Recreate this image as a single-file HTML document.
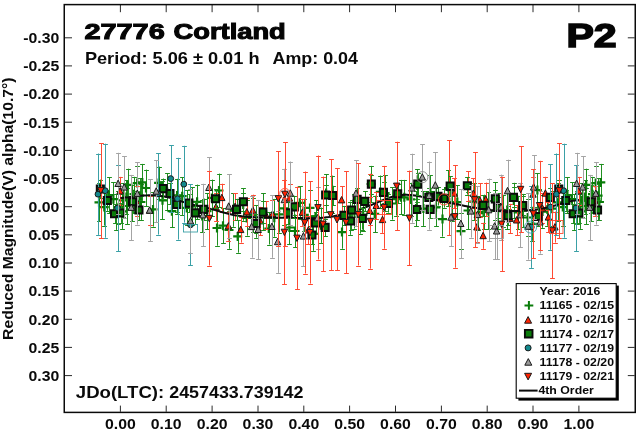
<!DOCTYPE html>
<html lang="en">
<head>
<meta charset="utf-8">
<title>27776 Cortland - Lightcurve P2</title>
<style>
html,body{margin:0;padding:0;background:#fff;}
body{width:640px;height:433px;position:relative;overflow:hidden;font-family:"Liberation Sans",Arial,sans-serif;}
svg text{white-space:pre;}
svg{filter:blur(0.35px);}
</style>
</head>
<body>
<svg width="640" height="433" viewBox="0 0 640 433" style="display:block;position:absolute;left:0;top:0">
<rect x="0" y="0" width="640" height="433" fill="#fff"/>
<path d="M120.4 5V12.2M120.4 411.8V405.6M166.2 5V12.2M166.2 411.8V405.6M212.1 5V12.2M212.1 411.8V405.6M258.0 5V12.2M258.0 411.8V405.6M303.8 5V12.2M303.8 411.8V405.6M349.6 5V12.2M349.6 411.8V405.6M395.5 5V12.2M395.5 411.8V405.6M441.4 5V12.2M441.4 411.8V405.6M487.2 5V12.2M487.2 411.8V405.6M533.0 5V12.2M533.0 411.8V405.6M578.9 5V12.2M578.9 411.8V405.6M65 37.8H72M634.6 37.8H627.8M65 65.9H72M634.6 65.9H627.8M65 94.1H72M634.6 94.1H627.8M65 122.2H72M634.6 122.2H627.8M65 150.4H72M634.6 150.4H627.8M65 178.5H72M634.6 178.5H627.8M65 206.7H72M634.6 206.7H627.8M65 234.8H72M634.6 234.8H627.8M65 263.0H72M634.6 263.0H627.8M65 291.1H72M634.6 291.1H627.8M65 319.3H72M634.6 319.3H627.8M65 347.4H72M634.6 347.4H627.8M65 375.6H72M634.6 375.6H627.8" stroke="#2a2a2a" stroke-width="1" fill="none"/>
<g id="data">
<path d="M223.5 208.3V243.1M221.1 208.5h4.8M221.1 243.5h4.8M217.5 210.3V245.7M215.1 210.5h4.8M215.1 246.5h4.8M229.5 211.2V248.8M227.1 211.5h4.8M227.1 249.5h4.8M404.5 179.9V214.7M402.1 180.5h4.8M402.1 215.5h4.8M442.5 201.6V236.6M440.1 202.5h4.8M440.1 237.5h4.8M461.5 213.3V248.9M459.1 213.5h4.8M459.1 249.5h4.8M342.5 215.5V248.7M340.1 216.5h4.8M340.1 249.5h4.8M598.5 178.2V213.2M596.1 178.5h4.8M596.1 213.5h4.8M599.5 184.1V219.9M597.1 184.5h4.8M597.1 220.5h4.8M146.5 169.6V206.4M144.1 170.5h4.8M144.1 206.5h4.8M159.5 166.6V199.2M157.1 167.5h4.8M157.1 199.5h4.8M219.5 173.6V207.4M217.1 174.5h4.8M217.1 207.5h4.8M243.5 188.2V220.8M241.1 188.5h4.8M241.1 221.5h4.8M263.5 193.2V230.0M261.1 193.5h4.8M261.1 230.5h4.8M371.5 165.9V202.1M369.1 166.5h4.8M369.1 202.5h4.8M417.5 169.5V201.7M415.1 169.5h4.8M415.1 202.5h4.8M326.5 174.1V211.9M324.1 174.5h4.8M324.1 212.5h4.8M332.5 175.6V213.4M330.1 176.5h4.8M330.1 213.5h4.8M448.5 170.0V206.0M446.1 170.5h4.8M446.1 206.5h4.8M313.5 215.2V250.8M311.1 215.5h4.8M311.1 251.5h4.8M295.5 214.5V247.5M293.1 215.5h4.8M293.1 247.5h4.8M269.5 212.5V244.5M267.1 212.5h4.8M267.1 245.5h4.8M247.5 200.4V235.6M245.1 200.5h4.8M245.1 236.5h4.8M256.5 205.3V237.7M254.1 205.5h4.8M254.1 238.5h4.8M350.5 201.6V234.8M348.1 202.5h4.8M348.1 235.5h4.8M363.5 197.9V231.3M361.1 198.5h4.8M361.1 231.5h4.8M392.5 187.4V219.6M390.1 187.5h4.8M390.1 220.5h4.8M416.5 191.2V226.0M414.1 191.5h4.8M414.1 226.5h4.8M423.5 191.3V225.9M421.1 191.5h4.8M421.1 226.5h4.8M495.5 182.5V219.5M493.1 182.5h4.8M493.1 220.5h4.8M514.5 182.8V218.0M512.1 183.5h4.8M512.1 218.5h4.8M574.5 194.1V229.9M572.1 194.5h4.8M572.1 230.5h4.8M580.5 193.9V228.9M578.1 194.5h4.8M578.1 229.5h4.8M586.5 188.0V224.0M584.1 188.5h4.8M584.1 224.5h4.8M592.5 176.8V211.6M590.1 177.5h4.8M590.1 212.5h4.8M585.5 180.2V213.8M583.1 180.5h4.8M583.1 214.5h4.8M468.5 191.5V229.5M466.1 192.5h4.8M466.1 229.5h4.8M99.5 183.3V221.3M97.1 183.5h4.8M97.1 221.5h4.8M104.5 188.6V225.6M102.1 189.5h4.8M102.1 226.5h4.8M109.5 177.1V213.3M107.1 177.5h4.8M107.1 213.5h4.8M113.5 182.3V216.1M111.1 182.5h4.8M111.1 216.5h4.8M118.5 190.5V223.9M116.1 191.5h4.8M116.1 224.5h4.8M123.5 183.4V217.2M121.1 183.5h4.8M121.1 217.5h4.8M128.5 168.7V201.1M126.1 169.5h4.8M126.1 201.5h4.8M132.5 184.7V221.3M130.1 185.5h4.8M130.1 221.5h4.8M137.5 165.9V200.3M135.1 166.5h4.8M135.1 200.5h4.8M142.5 163.9V200.9M140.1 164.5h4.8M140.1 201.5h4.8M153.5 192.2V226.6M151.1 192.5h4.8M151.1 227.5h4.8M162.5 181.4V219.2M160.1 181.5h4.8M160.1 219.5h4.8M167.5 173.4V210.4M165.1 173.5h4.8M165.1 210.5h4.8M172.5 195.2V227.2M170.1 195.5h4.8M170.1 227.5h4.8M177.5 178.8V212.0M175.1 179.5h4.8M175.1 212.5h4.8M182.5 177.5V214.9M180.1 177.5h4.8M180.1 215.5h4.8M187.5 190.5V225.3M185.1 190.5h4.8M185.1 225.5h4.8M192.5 187.5V225.3M190.1 187.5h4.8M190.1 225.5h4.8M197.5 184.6V219.0M195.1 185.5h4.8M195.1 219.5h4.8M202.5 199.8V232.2M200.1 200.5h4.8M200.1 232.5h4.8M207.5 193.2V229.0M205.1 193.5h4.8M205.1 229.5h4.8M212.5 179.6V216.2M210.1 180.5h4.8M210.1 216.5h4.8M233.5 193.2V226.8M231.1 193.5h4.8M231.1 227.5h4.8M238.5 220.1V252.7M236.1 220.5h4.8M236.1 253.5h4.8M253.5 198.1V232.1M251.1 198.5h4.8M251.1 232.5h4.8M274.5 198.9V236.7M272.1 199.5h4.8M272.1 237.5h4.8M279.5 196.0V232.6M277.1 196.5h4.8M277.1 233.5h4.8M284.5 191.9V224.7M282.1 192.5h4.8M282.1 225.5h4.8M289.5 210.8V244.2M287.1 211.5h4.8M287.1 244.5h4.8M300.5 186.5V219.1M298.1 186.5h4.8M298.1 219.5h4.8M304.5 198.7V231.1M302.1 199.5h4.8M302.1 231.5h4.8M310.5 189.5V226.3M308.1 190.5h4.8M308.1 226.5h4.8M316.5 200.3V233.3M314.1 200.5h4.8M314.1 233.5h4.8M321.5 207.5V242.9M319.1 208.5h4.8M319.1 243.5h4.8M354.5 194.0V228.6M352.1 194.5h4.8M352.1 229.5h4.8M360.5 200.4V233.6M358.1 200.5h4.8M358.1 234.5h4.8M375.5 195.7V232.1M373.1 196.5h4.8M373.1 232.5h4.8M380.5 175.5V208.3M378.1 176.5h4.8M378.1 208.5h4.8M385.5 175.1V210.9M383.1 175.5h4.8M383.1 211.5h4.8M396.5 182.9V215.5M394.1 183.5h4.8M394.1 216.5h4.8M401.5 179.9V214.5M399.1 180.5h4.8M399.1 214.5h4.8M411.5 182.8V216.0M409.1 183.5h4.8M409.1 216.5h4.8M430.5 175.4V209.0M428.1 175.5h4.8M428.1 209.5h4.8M436.5 188.4V226.2M434.1 188.5h4.8M434.1 226.5h4.8M452.5 183.7V220.5M450.1 184.5h4.8M450.1 221.5h4.8M457.5 185.2V219.0M455.1 185.5h4.8M455.1 219.5h4.8M474.5 183.0V220.4M472.1 183.5h4.8M472.1 220.5h4.8M478.5 196.5V229.7M476.1 196.5h4.8M476.1 230.5h4.8M484.5 194.7V229.1M482.1 195.5h4.8M482.1 229.5h4.8M488.5 192.3V229.5M486.1 192.5h4.8M486.1 229.5h4.8M498.5 193.0V228.8M496.1 193.5h4.8M496.1 229.5h4.8M503.5 194.8V227.4M501.1 195.5h4.8M501.1 227.5h4.8M507.5 191.0V229.0M505.1 191.5h4.8M505.1 229.5h4.8M518.5 195.7V228.9M516.1 196.5h4.8M516.1 229.5h4.8M523.5 193.9V227.5M521.1 194.5h4.8M521.1 227.5h4.8M528.5 199.2V235.8M526.1 199.5h4.8M526.1 236.5h4.8M532.5 206.8V240.8M530.1 207.5h4.8M530.1 241.5h4.8M537.5 173.2V207.0M535.1 173.5h4.8M535.1 207.5h4.8M542.5 195.4V227.8M540.1 195.5h4.8M540.1 228.5h4.8M547.5 193.1V225.7M545.1 193.5h4.8M545.1 226.5h4.8M552.5 191.0V226.4M550.1 191.5h4.8M550.1 226.5h4.8M140.5 178.2V213.2M138.1 178.5h4.8M138.1 213.5h4.8M141.5 184.1V219.9M139.1 184.5h4.8M139.1 220.5h4.8M116.5 194.1V229.9M114.1 194.5h4.8M114.1 230.5h4.8M122.5 193.9V228.9M120.1 194.5h4.8M120.1 229.5h4.8M127.5 188.0V224.0M125.1 188.5h4.8M125.1 224.5h4.8M134.5 176.8V211.6M132.1 177.5h4.8M132.1 212.5h4.8M126.5 180.2V213.8M124.1 180.5h4.8M124.1 214.5h4.8M558.5 183.3V221.3M556.1 183.5h4.8M556.1 221.5h4.8M563.5 188.6V225.6M561.1 189.5h4.8M561.1 226.5h4.8M567.5 177.1V213.3M565.1 177.5h4.8M565.1 213.5h4.8M572.5 182.3V216.1M570.1 182.5h4.8M570.1 216.5h4.8M577.5 190.5V223.9M575.1 191.5h4.8M575.1 224.5h4.8M582.5 183.4V217.2M580.1 183.5h4.8M580.1 217.5h4.8M586.5 168.7V201.1M584.1 169.5h4.8M584.1 201.5h4.8M591.5 184.7V221.3M589.1 185.5h4.8M589.1 221.5h4.8M596.5 165.9V200.3M594.1 166.5h4.8M594.1 200.5h4.8M601.5 163.9V200.9M599.1 164.5h4.8M599.1 201.5h4.8" stroke="#1f8f1f" stroke-width="1.00" fill="none" opacity="1.00"/>
<path d="M218.5 225.7h9.0M223.0 221.2v9.0M212.5 228.0h9.0M217.0 223.5v9.0M224.5 230.0h9.0M229.0 225.5v9.0M399.8 197.3h9.0M404.3 192.8v9.0M438.0 219.1h9.0M442.5 214.6v9.0M456.5 231.1h9.0M461.0 226.6v9.0M337.5 232.1h9.0M342.0 227.6v9.0M593.6 195.7h9.0M598.1 191.2v9.0M594.9 202.0h9.0M599.4 197.5v9.0M141.5 188.0h9.0M146.0 183.5v9.0M154.1 182.9h9.0M158.6 178.4v9.0M214.5 190.5h9.0M219.0 186.0v9.0M238.7 204.5h9.0M243.2 200.0v9.0M258.3 211.6h9.0M262.8 207.1v9.0M366.6 184.0h9.0M371.1 179.5v9.0M412.9 185.6h9.0M417.4 181.1v9.0M321.6 193.0h9.0M326.1 188.5v9.0M328.0 194.5h9.0M332.5 190.0v9.0M444.0 188.0h9.0M448.5 183.5v9.0M308.3 233.0h9.0M312.8 228.5v9.0M290.5 231.0h9.0M295.0 226.5v9.0M264.3 228.5h9.0M268.8 224.0v9.0M242.2 218.0h9.0M246.7 213.5v9.0M251.7 221.5h9.0M256.2 217.0v9.0M345.5 218.2h9.0M350.0 213.7v9.0M358.6 214.6h9.0M363.1 210.1v9.0M387.3 203.5h9.0M391.8 199.0v9.0M411.5 208.6h9.0M416.0 204.1v9.0M418.9 208.6h9.0M423.4 204.1v9.0M490.2 201.0h9.0M494.7 196.5v9.0M509.3 200.4h9.0M513.8 195.9v9.0M570.0 212.0h9.0M574.5 207.5v9.0M576.0 211.4h9.0M580.5 206.9v9.0M581.1 206.0h9.0M585.6 201.5v9.0M588.0 194.2h9.0M592.5 189.7v9.0M580.4 197.0h9.0M584.9 192.5v9.0M463.5 210.5h9.0M468.0 206.0v9.0M94.5 202.3h9.0M99.0 197.8v9.0M99.8 207.1h9.0M104.3 202.6v9.0M104.4 195.2h9.0M108.9 190.7v9.0M108.9 199.2h9.0M113.4 194.7v9.0M114.0 207.2h9.0M118.5 202.7v9.0M118.6 200.3h9.0M123.1 195.8v9.0M123.2 184.9h9.0M127.7 180.4v9.0M127.9 203.0h9.0M132.4 198.5v9.0M132.7 183.1h9.0M137.2 178.6v9.0M137.8 182.4h9.0M142.3 177.9v9.0M148.5 209.4h9.0M153.0 204.9v9.0M158.0 200.3h9.0M162.5 195.8v9.0M162.7 191.9h9.0M167.2 187.4v9.0M167.4 211.2h9.0M171.9 206.7v9.0M172.6 195.4h9.0M177.1 190.9v9.0M177.7 196.2h9.0M182.2 191.7v9.0M182.3 207.9h9.0M186.8 203.4v9.0M187.6 206.4h9.0M192.1 201.9v9.0M192.6 201.8h9.0M197.1 197.3v9.0M197.7 216.0h9.0M202.2 211.5v9.0M202.5 211.1h9.0M207.0 206.6v9.0M207.3 197.9h9.0M211.8 193.4v9.0M228.6 210.0h9.0M233.1 205.5v9.0M233.2 236.4h9.0M237.7 231.9v9.0M248.3 215.1h9.0M252.8 210.6v9.0M269.8 217.8h9.0M274.3 213.3v9.0M274.6 214.3h9.0M279.1 209.8v9.0M279.8 208.3h9.0M284.3 203.8v9.0M284.9 227.5h9.0M289.4 223.0v9.0M295.3 202.8h9.0M299.8 198.3v9.0M299.8 214.9h9.0M304.3 210.4v9.0M305.5 207.9h9.0M310.0 203.4v9.0M311.0 216.8h9.0M315.5 212.3v9.0M316.3 225.2h9.0M320.8 220.7v9.0M349.9 211.3h9.0M354.4 206.8v9.0M355.4 217.0h9.0M359.9 212.5v9.0M370.2 213.9h9.0M374.7 209.4v9.0M375.8 191.9h9.0M380.3 187.4v9.0M380.6 193.0h9.0M385.1 188.5v9.0M391.8 199.2h9.0M396.3 194.7v9.0M396.5 197.2h9.0M401.0 192.7v9.0M406.3 199.4h9.0M410.8 194.9v9.0M425.9 192.2h9.0M430.4 187.7v9.0M431.5 207.3h9.0M436.0 202.8v9.0M447.2 202.1h9.0M451.7 197.6v9.0M452.8 202.1h9.0M457.3 197.6v9.0M469.2 201.7h9.0M473.7 197.2v9.0M473.9 213.1h9.0M478.4 208.6v9.0M479.1 211.9h9.0M483.6 207.4v9.0M483.9 210.9h9.0M488.4 206.4v9.0M493.5 210.9h9.0M498.0 206.4v9.0M498.1 211.1h9.0M502.6 206.6v9.0M502.8 210.0h9.0M507.3 205.5v9.0M513.6 212.3h9.0M518.1 207.8v9.0M518.2 210.7h9.0M522.7 206.2v9.0M523.2 217.5h9.0M527.7 213.0v9.0M527.8 223.8h9.0M532.3 219.3v9.0M532.9 190.1h9.0M537.4 185.6v9.0M538.0 211.6h9.0M542.5 207.1v9.0M542.9 209.4h9.0M547.4 204.9v9.0M547.7 208.7h9.0M552.2 204.2v9.0M135.1 195.7h9.0M139.6 191.2v9.0M136.4 202.0h9.0M140.9 197.5v9.0M111.5 212.0h9.0M116.0 207.5v9.0M117.5 211.4h9.0M122.0 206.9v9.0M122.6 206.0h9.0M127.1 201.5v9.0M129.5 194.2h9.0M134.0 189.7v9.0M121.9 197.0h9.0M126.4 192.5v9.0M553.0 202.3h9.0M557.5 197.8v9.0M558.3 207.1h9.0M562.8 202.6v9.0M562.9 195.2h9.0M567.4 190.7v9.0M567.4 199.2h9.0M571.9 194.7v9.0M572.5 207.2h9.0M577.0 202.7v9.0M577.1 200.3h9.0M581.6 195.8v9.0M581.7 184.9h9.0M586.2 180.4v9.0M586.4 203.0h9.0M590.9 198.5v9.0M591.2 183.1h9.0M595.7 178.6v9.0M596.3 182.4h9.0M600.8 177.9v9.0" stroke="#0a7c0a" stroke-width="2.2" fill="none"/>
<path d="M449.5 140.0V235.2M447.1 140.5h4.8M447.1 235.5h4.8M120.5 176.9V205.3M118.1 177.5h4.8M118.1 205.5h4.8M137.5 186.3V215.7M135.1 186.5h4.8M135.1 216.5h4.8M150.5 196.3V224.7M148.1 196.5h4.8M148.1 225.5h4.8M216.5 193.0V221.0M214.1 193.5h4.8M214.1 221.5h4.8M222.5 183.7V211.7M220.1 184.5h4.8M220.1 212.5h4.8M228.5 211.6V240.6M226.1 212.5h4.8M226.1 241.5h4.8M235.5 193.2V220.0M233.1 193.5h4.8M233.1 220.5h4.8M241.5 216.8V242.6M239.1 217.5h4.8M239.1 243.5h4.8M247.5 198.0V226.0M245.1 198.5h4.8M245.1 226.5h4.8M253.5 194.7V225.9M251.1 195.5h4.8M251.1 226.5h4.8M260.5 206.8V235.2M258.1 207.5h4.8M258.1 235.5h4.8M266.5 201.4V229.4M264.1 201.5h4.8M264.1 229.5h4.8M272.5 200.0V228.0M270.1 200.5h4.8M270.1 228.5h4.8M290.5 183.8V212.8M288.1 184.5h4.8M288.1 213.5h4.8M302.5 198.9V225.9M300.1 199.5h4.8M300.1 226.5h4.8M308.5 216.1V244.1M306.1 216.5h4.8M306.1 244.5h4.8M342.5 186.0V214.0M340.1 186.5h4.8M340.1 214.5h4.8M370.5 196.6V224.6M368.1 197.5h4.8M368.1 225.5h4.8M376.5 192.1V219.1M374.1 192.5h4.8M374.1 219.5h4.8M382.5 206.5V232.9M380.1 206.5h4.8M380.1 233.5h4.8M454.5 178.3V208.3M452.1 178.5h4.8M452.1 208.5h4.8M473.5 178.5V208.5M471.1 178.5h4.8M471.1 208.5h4.8M477.5 212.6V241.6M475.1 213.5h4.8M475.1 242.5h4.8M480.5 183.3V217.3M478.1 183.5h4.8M478.1 217.5h4.8M483.5 222.8V248.8M481.1 223.5h4.8M481.1 249.5h4.8M486.5 182.6V216.0M484.1 183.5h4.8M484.1 216.5h4.8M510.5 203.8V233.2M508.1 204.5h4.8M508.1 233.5h4.8M517.5 205.0V235.2M515.1 205.5h4.8M515.1 235.5h4.8M533.5 177.3V211.3M531.1 177.5h4.8M531.1 211.5h4.8M542.5 193.3V223.3M540.1 193.5h4.8M540.1 223.5h4.8M545.5 176.8V209.8M543.1 177.5h4.8M543.1 210.5h4.8M548.5 202.2V232.2M546.1 202.5h4.8M546.1 232.5h4.8M555.5 211.6V242.6M553.1 212.5h4.8M553.1 243.5h4.8M468.5 171.0V201.0M466.1 171.5h4.8M466.1 201.5h4.8M579.5 176.9V205.3M577.1 177.5h4.8M577.1 205.5h4.8M595.5 186.3V215.7M593.1 186.5h4.8M593.1 216.5h4.8" stroke="#ff4a32" stroke-width="1.00" fill="none" opacity="1.00"/>
<path d="M449.1 184.1L452.3 190.5L445.9 190.5zM120.1 187.6L123.3 194.0L116.9 194.0zM136.6 197.5L139.8 203.9L133.4 203.9zM149.7 207.0L152.9 213.4L146.5 213.4zM216.0 203.5L219.2 209.9L212.8 209.9zM221.8 194.2L225.0 200.6L218.6 200.6zM228.4 222.6L231.6 229.0L225.2 229.0zM235.1 203.1L238.3 209.5L231.9 209.5zM240.7 226.2L243.9 232.6L237.5 232.6zM246.8 208.5L250.0 214.9L243.6 214.9zM252.8 206.8L256.0 213.2L249.6 213.2zM260.2 217.5L263.4 223.9L257.0 223.9zM266.2 211.9L269.4 218.3L263.0 218.3zM272.5 210.5L275.7 216.9L269.3 216.9zM289.5 194.8L292.7 201.2L286.3 201.2zM302.4 208.9L305.6 215.3L299.2 215.3zM308.4 226.6L311.6 233.0L305.2 233.0zM341.6 196.5L344.8 202.9L338.4 202.9zM369.7 207.1L372.9 213.5L366.5 213.5zM376.2 202.1L379.4 208.5L373.0 208.5zM382.5 216.2L385.7 222.6L379.3 222.6zM454.1 189.8L457.3 196.2L450.9 196.2zM473.4 190.0L476.6 196.4L470.2 196.4zM476.9 223.6L480.1 230.0L473.7 230.0zM479.8 196.8L483.0 203.2L476.6 203.2zM483.1 232.3L486.3 238.7L479.9 238.7zM485.7 195.8L488.9 202.2L482.5 202.2zM510.2 215.0L513.4 221.4L507.0 221.4zM516.6 216.6L519.8 223.0L513.4 223.0zM533.0 190.8L536.2 197.2L529.8 197.2zM542.4 204.8L545.6 211.2L539.2 211.2zM545.4 189.8L548.6 196.2L542.2 196.2zM548.4 213.7L551.6 220.1L545.2 220.1zM554.9 223.6L558.1 230.0L551.7 230.0zM468.0 182.5L471.2 188.9L464.8 188.9zM578.6 187.6L581.8 194.0L575.4 194.0zM595.1 197.5L598.3 203.9L591.9 203.9z" stroke="#1a1a1a" stroke-width="1.0" fill="#ff2200" stroke-linejoin="miter"/>
<path d="M120.4 198.1 L122.4 197.9 L124.4 197.7 L126.4 197.5 L128.4 197.3 L130.4 197.0 L132.4 196.7 L134.4 196.4 L136.4 196.1 L138.4 195.9 L140.4 195.7 L142.4 195.6 L144.4 195.4 L146.4 195.4 L148.4 195.3 L150.4 195.3 L152.4 195.3 L154.4 195.4 L156.4 195.5 L158.4 195.7 L160.5 195.9 L162.5 196.2 L164.5 196.5 L166.5 197.0 L168.5 197.4 L170.5 198.0 L172.5 198.6 L174.5 199.2 L176.5 199.8 L178.5 200.5 L180.5 201.1 L182.5 201.8 L184.5 202.4 L186.5 203.0 L188.5 203.5 L190.5 204.1 L192.5 204.6 L194.5 205.1 L196.5 205.5 L198.5 206.0 L200.5 206.5 L202.5 206.9 L204.5 207.4 L206.5 207.8 L208.5 208.3 L210.5 208.9 L212.5 209.4 L214.5 209.9 L216.5 210.5 L218.5 211.1 L220.5 211.7 L222.5 212.2 L224.5 212.8 L226.5 213.3 L228.5 213.8 L230.5 214.3 L232.5 214.8 L234.5 215.2 L236.6 215.5 L238.6 215.8 L240.6 216.1 L242.6 216.4 L244.6 216.6 L246.6 216.7 L248.6 216.9 L250.6 217.0 L252.6 217.1 L254.6 217.2 L256.6 217.3 L258.6 217.3 L260.6 217.4 L262.6 217.4 L264.6 217.5 L266.6 217.5 L268.6 217.5 L270.6 217.6 L272.6 217.6 L274.6 217.6 L276.6 217.7 L278.6 217.7 L280.6 217.7 L282.6 217.7 L284.6 217.8 L286.6 217.8 L288.6 217.8 L290.6 217.8 L292.6 217.9 L294.6 217.9 L296.6 218.0 L298.6 218.0 L300.6 218.0 L302.6 218.1 L304.6 218.1 L306.6 218.2 L308.6 218.2 L310.6 218.2 L312.7 218.2 L314.7 218.2 L316.7 218.1 L318.7 218.0 L320.7 217.9 L322.7 217.7 L324.7 217.5 L326.7 217.2 L328.7 217.0 L330.7 216.7 L332.7 216.4 L334.7 216.0 L336.7 215.6 L338.7 215.2 L340.7 214.8 L342.7 214.3 L344.7 213.9 L346.7 213.3 L348.7 212.8 L350.7 212.3 L352.7 211.7 L354.7 211.0 L356.7 210.4 L358.7 209.7 L360.7 209.0 L362.7 208.3 L364.7 207.6 L366.7 206.8 L368.7 206.0 L370.7 205.2 L372.7 204.4 L374.7 203.5 L376.7 202.7 L378.7 201.9 L380.7 201.0 L382.7 200.2 L384.7 199.4 L386.7 198.6 L388.8 197.9 L390.8 197.2 L392.8 196.6 L394.8 196.1 L396.8 195.7 L398.8 195.4 L400.8 195.1 L402.8 194.9 L404.8 194.8 L406.8 194.8 L408.8 194.9 L410.8 195.0 L412.8 195.2 L414.8 195.5 L416.8 195.8 L418.8 196.2 L420.8 196.6 L422.8 197.1 L424.8 197.5 L426.8 198.0 L428.8 198.5 L430.8 198.9 L432.8 199.4 L434.8 199.8 L436.8 200.3 L438.8 200.7 L440.8 201.1 L442.8 201.5 L444.8 201.9 L446.8 202.3 L448.8 202.6 L450.8 203.0 L452.8 203.4 L454.8 203.8 L456.8 204.2 L458.8 204.6 L460.8 205.1 L462.8 205.5 L464.9 205.9 L466.9 206.3 L468.9 206.7 L470.9 207.1 L472.9 207.4 L474.9 207.8 L476.9 208.1 L478.9 208.5 L480.9 208.8 L482.9 209.1 L484.9 209.3 L486.9 209.6 L488.9 209.8 L490.9 210.1 L492.9 210.3 L494.9 210.5 L496.9 210.6 L498.9 210.7 L500.9 210.9 L502.9 210.9 L504.9 211.0 L506.9 211.1 L508.9 211.1 L510.9 211.1 L512.9 211.1 L514.9 211.1 L516.9 211.0 L518.9 210.9 L520.9 210.9 L522.9 210.8 L524.9 210.6 L526.9 210.5 L528.9 210.3 L530.9 210.1 L532.9 209.9 L534.9 209.6 L536.9 209.4 L538.9 209.1 L541.0 208.7 L543.0 208.4 L545.0 208.0 L547.0 207.6 L549.0 207.1 L551.0 206.6 L553.0 206.0 L555.0 205.5 L557.0 204.9 L559.0 204.4 L561.0 203.8 L563.0 203.2 L565.0 202.6 L567.0 202.1 L569.0 201.6 L571.0 201.1 L573.0 200.8 L575.0 200.6 L577.0 200.3 L579.0 200.0" stroke="#0c0c0c" stroke-width="2" fill="none" stroke-linejoin="round"/>
<path d="M100.5 179.6V198.4M98.1 180.5h4.8M98.1 198.5h4.8M107.5 190.4V210.8M105.1 190.5h4.8M105.1 211.5h4.8M115.5 204.1V223.5M113.1 204.5h4.8M113.1 223.5h4.8M121.5 203.1V222.9M119.1 203.5h4.8M119.1 223.5h4.8M133.5 190.7V212.9M131.1 191.5h4.8M131.1 213.5h4.8M139.5 200.0V220.0M137.1 200.5h4.8M137.1 220.5h4.8M163.5 178.5V198.9M161.1 179.5h4.8M161.1 199.5h4.8M170.5 182.7V204.5M168.1 183.5h4.8M168.1 204.5h4.8M177.5 195.4V213.8M175.1 195.5h4.8M175.1 214.5h4.8M189.5 194.0V212.4M187.1 194.5h4.8M187.1 212.5h4.8M195.5 201.9V223.9M193.1 202.5h4.8M193.1 224.5h4.8M204.5 198.6V220.2M202.1 199.5h4.8M202.1 220.5h4.8M216.5 189.4V208.2M214.1 189.5h4.8M214.1 208.5h4.8M243.5 192.5V211.1M241.1 193.5h4.8M241.1 211.5h4.8M237.5 198.8V220.0M235.1 199.5h4.8M235.1 220.5h4.8M263.5 201.1V223.3M261.1 201.5h4.8M261.1 223.5h4.8M256.5 214.2V232.8M254.1 214.5h4.8M254.1 233.5h4.8M294.5 195.8V218.0M292.1 196.5h4.8M292.1 218.5h4.8M288.5 202.0V223.8M286.1 202.5h4.8M286.1 224.5h4.8M326.5 184.8V205.2M324.1 185.5h4.8M324.1 205.5h4.8M333.5 185.8V205.4M331.1 186.5h4.8M331.1 205.5h4.8M312.5 226.0V244.0M310.1 226.5h4.8M310.1 244.5h4.8M325.5 218.5V236.3M323.1 219.5h4.8M323.1 236.5h4.8M316.5 211.9V234.1M314.1 212.5h4.8M314.1 234.5h4.8M371.5 174.8V193.6M369.1 175.5h4.8M369.1 194.5h4.8M384.5 181.8V202.8M382.1 182.5h4.8M382.1 203.5h4.8M398.5 184.4V203.2M396.1 184.5h4.8M396.1 203.5h4.8M418.5 173.4V195.0M416.1 173.5h4.8M416.1 195.5h4.8M450.5 176.0V196.4M448.1 176.5h4.8M448.1 196.5h4.8M429.5 187.8V206.8M427.1 188.5h4.8M427.1 207.5h4.8M438.5 187.1V205.5M436.1 187.5h4.8M436.1 206.5h4.8M417.5 199.1V220.1M415.1 199.5h4.8M415.1 220.5h4.8M430.5 200.4V218.4M428.1 200.5h4.8M428.1 218.5h4.8M388.5 194.0V212.6M386.1 194.5h4.8M386.1 213.5h4.8M365.5 191.2V211.4M363.1 191.5h4.8M363.1 211.5h4.8M357.5 188.5V210.1M355.1 188.5h4.8M355.1 210.5h4.8M352.5 199.7V220.3M350.1 200.5h4.8M350.1 220.5h4.8M344.5 205.9V224.9M342.1 206.5h4.8M342.1 225.5h4.8M362.5 207.6V229.6M360.1 208.5h4.8M360.1 230.5h4.8M444.5 189.0V207.6M442.1 189.5h4.8M442.1 208.5h4.8M467.5 177.0V194.6M465.1 177.5h4.8M465.1 195.5h4.8M351.5 211.6V230.4M349.1 212.5h4.8M349.1 230.5h4.8M514.5 187.4V207.2M512.1 187.5h4.8M512.1 207.5h4.8M495.5 190.0V207.8M493.1 190.5h4.8M493.1 208.5h4.8M523.5 196.3V214.7M521.1 196.5h4.8M521.1 215.5h4.8M508.5 206.1V225.5M506.1 206.5h4.8M506.1 225.5h4.8M483.5 195.2V215.6M481.1 195.5h4.8M481.1 216.5h4.8M538.5 207.5V225.7M536.1 207.5h4.8M536.1 226.5h4.8M550.5 187.6V207.0M548.1 188.5h4.8M548.1 207.5h4.8M498.5 196.6V218.4M496.1 197.5h4.8M496.1 218.5h4.8M559.5 179.6V198.4M557.1 180.5h4.8M557.1 198.5h4.8M566.5 190.4V210.8M564.1 190.5h4.8M564.1 211.5h4.8M573.5 204.1V223.5M571.1 204.5h4.8M571.1 223.5h4.8M579.5 203.1V222.9M577.1 203.5h4.8M577.1 223.5h4.8M591.5 190.7V212.9M589.1 191.5h4.8M589.1 213.5h4.8M598.5 200.0V220.0M596.1 200.5h4.8M596.1 220.5h4.8" stroke="#1f8f1f" stroke-width="1.00" fill="none" opacity="1.00"/>
<path d="M96.8 185.4h7.1v7.1h-7.1zM103.8 197.0h7.1v7.1h-7.1zM111.0 210.2h7.1v7.1h-7.1zM117.0 209.4h7.1v7.1h-7.1zM129.0 198.2h7.1v7.1h-7.1zM135.4 206.4h7.1v7.1h-7.1zM159.6 185.1h7.1v7.1h-7.1zM166.4 190.0h7.1v7.1h-7.1zM173.2 201.0h7.1v7.1h-7.1zM185.3 199.6h7.1v7.1h-7.1zM191.8 209.3h7.1v7.1h-7.1zM200.2 205.8h7.1v7.1h-7.1zM212.0 195.2h7.1v7.1h-7.1zM239.8 198.2h7.1v7.1h-7.1zM233.0 205.8h7.1v7.1h-7.1zM259.3 208.6h7.1v7.1h-7.1zM252.4 219.9h7.1v7.1h-7.1zM290.8 203.3h7.1v7.1h-7.1zM284.6 209.3h7.1v7.1h-7.1zM322.1 191.4h7.1v7.1h-7.1zM329.1 192.0h7.1v7.1h-7.1zM308.4 231.4h7.1v7.1h-7.1zM321.6 223.8h7.1v7.1h-7.1zM311.9 219.4h7.1v7.1h-7.1zM367.8 180.6h7.1v7.1h-7.1zM379.9 188.8h7.1v7.1h-7.1zM394.1 190.2h7.1v7.1h-7.1zM414.2 180.6h7.1v7.1h-7.1zM446.6 182.6h7.1v7.1h-7.1zM425.3 193.8h7.1v7.1h-7.1zM434.4 192.8h7.1v7.1h-7.1zM413.2 206.0h7.1v7.1h-7.1zM426.6 205.8h7.1v7.1h-7.1zM384.9 199.8h7.1v7.1h-7.1zM361.2 197.8h7.1v7.1h-7.1zM353.6 195.8h7.1v7.1h-7.1zM348.1 206.4h7.1v7.1h-7.1zM340.4 211.8h7.1v7.1h-7.1zM358.8 215.0h7.1v7.1h-7.1zM440.4 194.8h7.1v7.1h-7.1zM463.8 182.2h7.1v7.1h-7.1zM347.1 217.4h7.1v7.1h-7.1zM509.9 193.8h7.1v7.1h-7.1zM491.8 195.3h7.1v7.1h-7.1zM519.2 201.9h7.1v7.1h-7.1zM504.4 212.2h7.1v7.1h-7.1zM479.6 201.8h7.1v7.1h-7.1zM534.6 213.0h7.1v7.1h-7.1zM546.8 193.8h7.1v7.1h-7.1zM493.9 203.9h7.1v7.1h-7.1zM555.2 185.4h7.1v7.1h-7.1zM562.2 197.0h7.1v7.1h-7.1zM569.6 210.2h7.1v7.1h-7.1zM575.6 209.4h7.1v7.1h-7.1zM587.6 198.2h7.1v7.1h-7.1zM594.0 206.4h7.1v7.1h-7.1z" stroke="#0a0a0a" stroke-width="2.0" fill="#0a7c0a"/>
<path d="M98.5 153.5V234.9M96.1 154.5h4.8M96.1 235.5h4.8M105.5 143.7V237.7M103.1 144.5h4.8M103.1 238.5h4.8M118.5 165.0V251.0M116.1 165.5h4.8M116.1 251.5h4.8M158.5 153.0V234.6M156.1 153.5h4.8M156.1 235.5h4.8M171.5 145.2V212.0M169.1 145.5h4.8M169.1 212.5h4.8M178.5 157.8V239.6M176.1 158.5h4.8M176.1 240.5h4.8M184.5 145.8V222.6M182.1 146.5h4.8M182.1 223.5h4.8M190.5 184.2V265.4M188.1 184.5h4.8M188.1 265.5h4.8M550.5 164.2V249.8M548.1 164.5h4.8M548.1 250.5h4.8M531.5 186.3V267.9M529.1 186.5h4.8M529.1 268.5h4.8M556.5 153.5V234.9M554.1 154.5h4.8M554.1 235.5h4.8M564.5 143.7V237.7M562.1 144.5h4.8M562.1 238.5h4.8M576.5 165.0V251.0M574.1 165.5h4.8M574.1 251.5h4.8" stroke="#3aa0a6" stroke-width="1.00" fill="none" opacity="1.00"/>
<circle cx="98.0" cy="194.2" r="2.9" fill="#128a8e" stroke="#1a1a1a" stroke-width="1.0"/><circle cx="105.2" cy="190.7" r="2.9" fill="#128a8e" stroke="#1a1a1a" stroke-width="1.0"/><circle cx="117.5" cy="208.0" r="2.9" fill="#128a8e" stroke="#1a1a1a" stroke-width="1.0"/><circle cx="157.8" cy="193.8" r="2.9" fill="#128a8e" stroke="#1a1a1a" stroke-width="1.0"/><circle cx="170.7" cy="178.6" r="2.9" fill="#128a8e" stroke="#1a1a1a" stroke-width="1.0"/><circle cx="177.5" cy="198.7" r="2.9" fill="#128a8e" stroke="#1a1a1a" stroke-width="1.0"/><circle cx="183.8" cy="184.2" r="2.9" fill="#128a8e" stroke="#1a1a1a" stroke-width="1.0"/><circle cx="190.5" cy="224.8" r="2.9" fill="#128a8e" stroke="#1a1a1a" stroke-width="1.0"/><circle cx="550.4" cy="207.0" r="2.9" fill="#128a8e" stroke="#1a1a1a" stroke-width="1.0"/><circle cx="531.3" cy="227.1" r="2.9" fill="#128a8e" stroke="#1a1a1a" stroke-width="1.0"/><circle cx="556.5" cy="194.2" r="2.9" fill="#128a8e" stroke="#1a1a1a" stroke-width="1.0"/><circle cx="563.7" cy="190.7" r="2.9" fill="#128a8e" stroke="#1a1a1a" stroke-width="1.0"/><circle cx="576.0" cy="208.0" r="2.9" fill="#128a8e" stroke="#1a1a1a" stroke-width="1.0"/>
<path d="M118.5 152.8V214.4M116.1 153.5h4.8M116.1 214.5h4.8M124.5 156.4V218.0M122.1 156.5h4.8M122.1 218.5h4.8M131.5 174.9V240.1M129.1 175.5h4.8M129.1 240.5h4.8M137.5 162.4V224.6M135.1 162.5h4.8M135.1 225.5h4.8M150.5 179.4V241.2M148.1 179.5h4.8M148.1 241.5h4.8M156.5 160.5V222.1M154.1 160.5h4.8M154.1 222.5h4.8M190.5 189.3V252.7M188.1 189.5h4.8M188.1 253.5h4.8M203.5 183.8V246.2M201.1 184.5h4.8M201.1 246.5h4.8M209.5 157.0V218.2M207.1 157.5h4.8M207.1 218.5h4.8M229.5 174.2V238.4M227.1 174.5h4.8M227.1 238.5h4.8M252.5 195.7V257.7M250.1 196.5h4.8M250.1 258.5h4.8M258.5 199.9V259.3M256.1 200.5h4.8M256.1 259.5h4.8M272.5 195.4V257.8M270.1 195.5h4.8M270.1 258.5h4.8M278.5 210.7V272.9M276.1 211.5h4.8M276.1 273.5h4.8M284.5 168.8V230.8M282.1 169.5h4.8M282.1 231.5h4.8M290.5 161.5V225.1M288.1 162.5h4.8M288.1 225.5h4.8M303.5 206.1V266.3M301.1 206.5h4.8M301.1 266.5h4.8M318.5 186.8V249.2M316.1 187.5h4.8M316.1 249.5h4.8M356.5 160.3V226.3M354.1 160.5h4.8M354.1 226.5h4.8M412.5 153.7V222.7M410.1 154.5h4.8M410.1 223.5h4.8M422.5 144.4V210.0M420.1 144.5h4.8M420.1 210.5h4.8M429.5 161.5V229.7M427.1 162.5h4.8M427.1 230.5h4.8M435.5 152.1V218.3M433.1 152.5h4.8M433.1 218.5h4.8M451.5 188.3V246.3M449.1 188.5h4.8M449.1 246.5h4.8M461.5 189.2V258.0M459.1 189.5h4.8M459.1 258.5h4.8M471.5 184.8V237.6M469.1 185.5h4.8M469.1 238.5h4.8M477.5 186.2V243.2M475.1 186.5h4.8M475.1 243.5h4.8M489.5 178.6V241.2M487.1 179.5h4.8M487.1 241.5h4.8M495.5 193.2V259.2M493.1 193.5h4.8M493.1 259.5h4.8M497.5 202.9V259.3M495.1 203.5h4.8M495.1 259.5h4.8M501.5 174.6V239.6M499.1 175.5h4.8M499.1 240.5h4.8M508.5 159.7V222.1M506.1 160.5h4.8M506.1 222.5h4.8M520.5 182.8V247.2M518.1 183.5h4.8M518.1 247.5h4.8M528.5 193.2V259.6M526.1 193.5h4.8M526.1 260.5h4.8M534.5 155.1V219.3M532.1 155.5h4.8M532.1 219.5h4.8M540.5 190.6V253.6M538.1 191.5h4.8M538.1 254.5h4.8M577.5 152.8V214.4M575.1 153.5h4.8M575.1 214.5h4.8M583.5 156.4V218.0M581.1 156.5h4.8M581.1 218.5h4.8M590.5 174.9V240.1M588.1 175.5h4.8M588.1 240.5h4.8M596.5 162.4V224.6M594.1 162.5h4.8M594.1 225.5h4.8" stroke="#a4a4a4" stroke-width="1.00" fill="none" opacity="1.00"/>
<path d="M118.1 180.1L121.3 186.5L114.9 186.5zM124.2 183.7L127.4 190.1L121.0 190.1zM131.2 204.0L134.4 210.4L128.0 210.4zM137.3 190.0L140.5 196.4L134.1 196.4zM149.6 206.8L152.8 213.2L146.4 213.2zM156.2 187.8L159.4 194.2L153.0 194.2zM190.5 217.5L193.7 223.9L187.3 223.9zM202.9 211.5L206.1 217.9L199.7 217.9zM208.9 184.1L212.1 190.5L205.7 190.5zM228.7 202.8L231.9 209.2L225.5 209.2zM251.6 223.2L254.8 229.6L248.4 229.6zM258.2 226.1L261.4 232.5L255.0 232.5zM271.9 223.1L275.1 229.5L268.7 229.5zM277.6 238.3L280.8 244.7L274.4 244.7zM284.3 196.3L287.5 202.7L281.1 202.7zM290.3 189.8L293.5 196.2L287.1 196.2zM303.4 232.7L306.6 239.1L300.2 239.1zM317.5 214.5L320.7 220.9L314.3 220.9zM356.0 189.8L359.2 196.2L352.8 196.2zM411.9 184.7L415.1 191.1L408.7 191.1zM422.3 173.7L425.5 180.1L419.1 180.1zM429.1 192.1L432.3 198.5L425.9 198.5zM435.3 181.7L438.5 188.1L432.1 188.1zM451.0 213.8L454.2 220.2L447.8 220.2zM460.8 220.1L464.0 226.5L457.6 226.5zM470.8 207.7L474.0 214.1L467.6 214.1zM477.4 211.2L480.6 217.6L474.2 217.6zM488.7 206.4L491.9 212.8L485.5 212.8zM494.6 222.7L497.8 229.1L491.4 229.1zM496.6 227.6L499.8 234.0L493.4 234.0zM501.2 203.6L504.4 210.0L498.0 210.0zM507.5 187.4L510.7 193.8L504.3 193.8zM520.4 211.5L523.6 217.9L517.2 217.9zM528.0 222.9L531.2 229.3L524.8 229.3zM533.6 183.7L536.8 190.1L530.4 190.1zM540.0 218.6L543.2 225.0L536.8 225.0zM576.6 180.1L579.8 186.5L573.4 186.5zM582.7 183.7L585.9 190.1L579.5 190.1zM589.7 204.0L592.9 210.4L586.5 210.4zM595.8 190.0L599.0 196.4L592.6 196.4z" stroke="#1a1a1a" stroke-width="1.0" fill="#9a9a9a" stroke-linejoin="miter"/>
<path d="M101.5 143.0V238.0M99.1 143.5h4.8M99.1 238.5h4.8M209.5 170.9V265.5M207.1 171.5h4.8M207.1 266.5h4.8M278.5 151.2V245.8M276.1 151.5h4.8M276.1 246.5h4.8M285.5 142.3V245.9M283.1 142.5h4.8M283.1 246.5h4.8M284.5 179.9V284.3M282.1 180.5h4.8M282.1 284.5h4.8M297.5 186.6V289.4M295.1 187.5h4.8M295.1 289.5h4.8M305.5 171.5V273.5M303.1 172.5h4.8M303.1 274.5h4.8M310.5 181.2V283.6M308.1 181.5h4.8M308.1 284.5h4.8M318.5 155.5V259.5M316.1 156.5h4.8M316.1 260.5h4.8M323.5 176.6V271.4M321.1 177.5h4.8M321.1 271.5h4.8M331.5 159.0V270.2M329.1 159.5h4.8M329.1 270.5h4.8M337.5 168.5V270.5M335.1 168.5h4.8M335.1 270.5h4.8M346.5 171.3V273.3M344.1 171.5h4.8M344.1 273.5h4.8M358.5 163.1V265.5M356.1 163.5h4.8M356.1 266.5h4.8M370.5 173.7V268.7M368.1 174.5h4.8M368.1 269.5h4.8M384.5 165.9V248.7M382.1 166.5h4.8M382.1 249.5h4.8M397.5 141.7V230.3M395.1 142.5h4.8M395.1 230.5h4.8M409.5 170.6V265.2M407.1 171.5h4.8M407.1 265.5h4.8M455.5 165.3V267.7M453.1 165.5h4.8M453.1 268.5h4.8M475.5 152.1V247.1M473.1 152.5h4.8M473.1 247.5h4.8M502.5 176.6V271.4M500.1 177.5h4.8M500.1 271.5h4.8M521.5 146.1V232.3M519.1 146.5h4.8M519.1 232.5h4.8M533.5 169.2V258.0M531.1 169.5h4.8M531.1 258.5h4.8M540.5 160.8V250.0M538.1 161.5h4.8M538.1 250.5h4.8M552.5 183.0V278.2M550.1 183.5h4.8M550.1 278.5h4.8M559.5 143.0V238.0M557.1 143.5h4.8M557.1 238.5h4.8" stroke="#ff4a32" stroke-width="1.00" fill="none" opacity="1.00"/>
<path d="M100.8 194.0L104.0 187.6L97.6 187.6zM209.3 221.7L212.5 215.3L206.1 215.3zM278.3 202.0L281.5 195.6L275.1 195.6zM284.9 197.6L288.1 191.2L281.7 191.2zM284.4 235.6L287.6 229.2L281.2 229.2zM297.0 241.5L300.2 235.1L293.8 235.1zM304.7 226.0L307.9 219.6L301.5 219.6zM310.0 235.9L313.2 229.5L306.8 229.5zM318.0 211.0L321.2 204.6L314.8 204.6zM323.0 227.5L326.2 221.1L319.8 221.1zM330.7 218.1L333.9 211.7L327.5 211.7zM337.0 223.0L340.2 216.6L333.8 216.6zM346.0 225.8L349.2 219.4L342.8 219.4zM358.4 217.8L361.6 211.4L355.2 211.4zM370.4 224.7L373.6 218.3L367.2 218.3zM384.2 210.8L387.4 204.4L381.0 204.4zM396.7 189.5L399.9 183.1L393.5 183.1zM409.4 221.4L412.6 215.0L406.2 215.0zM454.9 220.0L458.1 213.6L451.7 213.6zM474.6 203.1L477.8 196.7L471.4 196.7zM501.6 227.5L504.8 221.1L498.4 221.1zM520.6 192.7L523.8 186.3L517.4 186.3zM533.4 217.1L536.6 210.7L530.2 210.7zM539.6 208.9L542.8 202.5L536.4 202.5zM552.4 234.1L555.6 227.7L549.2 227.7zM559.3 194.0L562.5 187.6L556.1 187.6z" stroke="#1a1a1a" stroke-width="1.0" fill="#ff2200" stroke-linejoin="miter"/>
<circle cx="284.9" cy="193.6" r="5.2" fill="none" stroke="#ff4a32" stroke-width="0.9"/>
<circle cx="422.3" cy="177.2" r="5.6" fill="none" stroke="#888" stroke-width="0.9"/>
<circle cx="444" cy="199.4" r="5.6" fill="none" stroke="#ff4a32" stroke-width="0.9"/>
<circle cx="530.6" cy="227.1" r="6" fill="none" stroke="#3aa0a6" stroke-width="0.9"/>
<rect x="376.5" y="200.5" width="15" height="14" fill="none" stroke="#ff4a32" stroke-width="0.9"/>
<rect x="549.5" y="220.5" width="13.5" height="13" fill="none" stroke="#ff4a32" stroke-width="0.9"/>
<rect x="489.5" y="225.5" width="14" height="13" fill="none" stroke="#999" stroke-width="0.9"/>
<rect x="183.5" y="224.5" width="14" height="7.5" fill="none" stroke="#3aa0a6" stroke-width="0.9"/>
</g>
<rect x="64.25" y="4.6" width="571" height="407.8" fill="none" stroke="#0a0a0a" stroke-width="1.5"/>
<rect x="518.4" y="285.6" width="100.4" height="115.0" fill="#000"/>
<rect x="516.2" y="283.6" width="100" height="114.6" fill="#fff" stroke="#000" stroke-width="1.1"/>
<g font-family="Liberation Sans, Arial, Helvetica, sans-serif" font-weight="bold" fill="#0a0a0a">
<text x="539.6" y="294.8" font-size="11.30" text-anchor="start" textLength="60.6" lengthAdjust="spacingAndGlyphs" >Year: 2016</text>
<text x="539.6" y="309.1" font-size="11.30" text-anchor="start" textLength="74.4" lengthAdjust="spacingAndGlyphs" >11165 - 02/15</text>
<text x="539.6" y="323.3" font-size="11.30" text-anchor="start" textLength="74.4" lengthAdjust="spacingAndGlyphs" >11170 - 02/16</text>
<text x="539.6" y="337.5" font-size="11.30" text-anchor="start" textLength="74.4" lengthAdjust="spacingAndGlyphs" >11174 - 02/17</text>
<text x="539.6" y="351.8" font-size="11.30" text-anchor="start" textLength="74.4" lengthAdjust="spacingAndGlyphs" >11177 - 02/19</text>
<text x="539.6" y="366.0" font-size="11.30" text-anchor="start" textLength="74.4" lengthAdjust="spacingAndGlyphs" >11178 - 02/20</text>
<text x="539.6" y="380.2" font-size="11.30" text-anchor="start" textLength="74.4" lengthAdjust="spacingAndGlyphs" >11179 - 02/21</text>
<text x="538.4" y="394.1" font-size="11.30" text-anchor="start" textLength="55.4" lengthAdjust="spacingAndGlyphs" >4th Order</text>
<text x="105.0" y="428.8" font-size="14.60" text-anchor="start" textLength="30.8" lengthAdjust="spacingAndGlyphs" >0.00</text>
<text x="150.8" y="428.8" font-size="14.60" text-anchor="start" textLength="30.8" lengthAdjust="spacingAndGlyphs" >0.10</text>
<text x="196.7" y="428.8" font-size="14.60" text-anchor="start" textLength="30.8" lengthAdjust="spacingAndGlyphs" >0.20</text>
<text x="242.6" y="428.8" font-size="14.60" text-anchor="start" textLength="30.8" lengthAdjust="spacingAndGlyphs" >0.30</text>
<text x="288.4" y="428.8" font-size="14.60" text-anchor="start" textLength="30.8" lengthAdjust="spacingAndGlyphs" >0.40</text>
<text x="334.2" y="428.8" font-size="14.60" text-anchor="start" textLength="30.8" lengthAdjust="spacingAndGlyphs" >0.50</text>
<text x="380.1" y="428.8" font-size="14.60" text-anchor="start" textLength="30.8" lengthAdjust="spacingAndGlyphs" >0.60</text>
<text x="426.0" y="428.8" font-size="14.60" text-anchor="start" textLength="30.8" lengthAdjust="spacingAndGlyphs" >0.70</text>
<text x="471.8" y="428.8" font-size="14.60" text-anchor="start" textLength="30.8" lengthAdjust="spacingAndGlyphs" >0.80</text>
<text x="517.6" y="428.8" font-size="14.60" text-anchor="start" textLength="30.8" lengthAdjust="spacingAndGlyphs" >0.90</text>
<text x="563.5" y="428.8" font-size="14.60" text-anchor="start" textLength="30.8" lengthAdjust="spacingAndGlyphs" >1.00</text>
<text x="23.2" y="43.1" font-size="14.60" text-anchor="start" textLength="36.1" lengthAdjust="spacingAndGlyphs" >-0.30</text>
<text x="23.2" y="71.2" font-size="14.60" text-anchor="start" textLength="36.1" lengthAdjust="spacingAndGlyphs" >-0.25</text>
<text x="23.2" y="99.4" font-size="14.60" text-anchor="start" textLength="36.1" lengthAdjust="spacingAndGlyphs" >-0.20</text>
<text x="23.2" y="127.5" font-size="14.60" text-anchor="start" textLength="36.1" lengthAdjust="spacingAndGlyphs" >-0.15</text>
<text x="23.2" y="155.7" font-size="14.60" text-anchor="start" textLength="36.1" lengthAdjust="spacingAndGlyphs" >-0.10</text>
<text x="23.2" y="183.8" font-size="14.60" text-anchor="start" textLength="36.1" lengthAdjust="spacingAndGlyphs" >-0.05</text>
<text x="28.5" y="212.0" font-size="14.60" text-anchor="start" textLength="30.8" lengthAdjust="spacingAndGlyphs" >0.00</text>
<text x="28.5" y="240.2" font-size="14.60" text-anchor="start" textLength="30.8" lengthAdjust="spacingAndGlyphs" >0.05</text>
<text x="28.5" y="268.3" font-size="14.60" text-anchor="start" textLength="30.8" lengthAdjust="spacingAndGlyphs" >0.10</text>
<text x="28.5" y="296.4" font-size="14.60" text-anchor="start" textLength="30.8" lengthAdjust="spacingAndGlyphs" >0.15</text>
<text x="28.5" y="324.6" font-size="14.60" text-anchor="start" textLength="30.8" lengthAdjust="spacingAndGlyphs" >0.20</text>
<text x="28.5" y="352.8" font-size="14.60" text-anchor="start" textLength="30.8" lengthAdjust="spacingAndGlyphs" >0.25</text>
<text x="28.5" y="380.9" font-size="14.60" text-anchor="start" textLength="30.8" lengthAdjust="spacingAndGlyphs" >0.30</text>
<text y="64.0" font-size="16.40" ><tspan x="84.9" textLength="174.6" lengthAdjust="spacingAndGlyphs">Period: 5.06 ± 0.01 h</tspan> <tspan x="272.5" textLength="85.5" lengthAdjust="spacingAndGlyphs">Amp: 0.04</tspan></text>
<text y="398.0" font-size="16.40" ><tspan x="75.8" textLength="88.4" lengthAdjust="spacingAndGlyphs">JDo(LTC):</tspan> <tspan x="169.2" textLength="134.3" lengthAdjust="spacingAndGlyphs">2457433.739142</tspan></text>
<text transform="translate(13.1,339.9) rotate(-90)" font-size="15.4" textLength="262.4" lengthAdjust="spacingAndGlyphs">Reduced Magnitude(V) alpha(10.7°)</text>
</g>
<g font-family="Liberation Sans, Arial, Helvetica, sans-serif" font-weight="bold" fill="#050505" stroke="#050505" stroke-linejoin="round">
<text y="39.4" font-size="22.00" stroke-width="1.05" stroke-linejoin="miter"><tspan x="84.4" textLength="80.4" lengthAdjust="spacingAndGlyphs">27776</tspan> <tspan x="173.6" textLength="112.2" lengthAdjust="spacingAndGlyphs">Cortland</tspan></text>
<text x="566.4" y="47.4" font-size="33.80" text-anchor="start" textLength="50.2" lengthAdjust="spacingAndGlyphs" stroke-width="1.6" stroke-linejoin="miter">P2</text>
</g>
<path d="M524.5 305.4h8.8M528.9 301.0v8.8" stroke="#0a7c0a" stroke-width="2.0" fill="none"/>
<path d="M528.1 316.6L531.6 323.2L524.6 323.2z" stroke="#1a1a1a" stroke-width="1.0" fill="#ff2200" stroke-linejoin="miter"/>
<path d="M524.9 329.9h7.6v7.6h-7.6z" stroke="#0a0a0a" stroke-width="1.9" fill="#0a7c0a"/>
<circle cx="528.1" cy="347.9" r="3.0" fill="#128a8e" stroke="#1a1a1a" stroke-width="1.0"/>
<path d="M528.3 358.6L531.8 365.2L524.8 365.2z" stroke="#1a1a1a" stroke-width="1.0" fill="#9a9a9a" stroke-linejoin="miter"/>
<path d="M528.1 379.9L531.6 373.3L524.6 373.3z" stroke="#1a1a1a" stroke-width="1.0" fill="#ff2200" stroke-linejoin="miter"/>
<path d="M519 390.6H537.6" stroke="#0a0a0a" stroke-width="2"/>
</svg>
</body>
</html>
